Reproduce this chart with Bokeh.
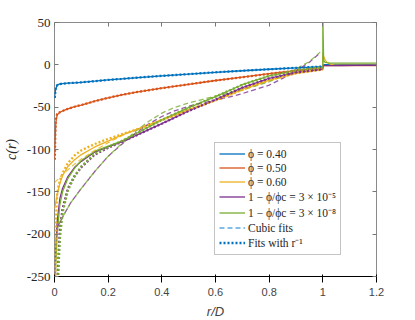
from bokeh.plotting import figure
from bokeh.models import (Legend, LegendItem, LinearAxis, FixedTicker,
                          NumeralTickFormatter, Range1d)
from bokeh.embed import file_html
from bokeh.resources import INLINE

# ---------------- data ----------------
x_ticks = [0, 0.2, 0.4, 0.6, 0.8, 1.0, 1.2]
y_ticks = [-250, -200, -150, -100, -50, 0, 50]

labels = ["ϕ = 0.40", "ϕ = 0.50", "ϕ = 0.60",
          "1 − ϕ/ϕc = 3 × 10⁻⁵", "1 − ϕ/ϕc = 3 × 10⁻⁸"]

# inside the core, r < 1
r_in = [0, 0.002, 0.005, 0.01, 0.02, 0.03, 0.05, 0.075, 0.1, 0.15, 0.2, 0.25,
        0.3, 0.4, 0.5, 0.6, 0.7, 0.8, 0.9, 1.0]
c_040 = [-39, -33, -28, -24, -22.6, -22.2, -21.7, -21.2, -20.7, -19.3, -17.8,
         -16.6, -15.3, -13, -11, -8.8, -7, -5.2, -3.6, -2]
c_050 = [-110, -92, -68, -59, -56, -54.5, -52, -49.5, -47.5, -43, -39, -35.5,
         -32.5, -27.5, -23, -18.5, -14.5, -10.5, -7, -3.5]
c_060 = [-170, -167, -162, -154, -140, -131, -120, -112, -106, -97, -90, -83,
         -77, -65, -53, -42, -29, -18, -10, -5.5]
c_3e5 = [-300, -250, -215, -185, -158, -146, -132, -121, -114, -103, -97, -91,
         -84, -69.5, -54.5, -41, -27, -16, -9, -5]
c_3e8 = [-320, -270, -235, -200, -165, -150, -134, -122, -113, -102, -96, -90,
         -82, -65, -50.5, -37.5, -23.5, -13, -6.5, -3]

# outside the core, r >= 1
r_out = [1.0, 1.003, 1.008, 1.015, 1.025, 1.04, 1.07, 1.12, 1.2]
o_040 = [0.3, 0.3, 0.3, 0.3, 0.3, 0.3, 0.3, 0.3, 0.3]
o_050 = [-0.5, -0.8, -1, -1, -1, -1, -1, -1, -1]
o_060 = [14, 10, 6, 3, 1, 0, -0.5, -0.5, -0.5]
o_3e5 = [-1, -1, -1, -1, -1, -1, -0.8, -0.6, -0.5]
o_3e8 = [58, 5, 3, 2.5, 2, 2, 2, 2, 2]

# fits with r^-1 (dotted)
r_fit = [0.001, 0.003, 0.005, 0.01, 0.015, 0.02, 0.03, 0.05, 0.075, 0.1, 0.15,
         0.2, 0.25, 0.3, 0.4, 0.5, 0.6, 0.7, 0.8, 0.9, 1.0]
f_040 = [-39, -31, -27, -24, -23.2, -22.7, -22.2, -21.7, -21.2, -20.7, -19.3,
         -17.8, -16.6, -15.3, -13, -11, -8.8, -7, -5.2, -3.6, -2]
f_050 = [-112, -80, -64, -58, -56.8, -56, -54.5, -52, -49.5, -47.5, -43, -39,
         -35.5, -32.5, -27.5, -23, -18.5, -14.5, -10.5, -7, -3.5]
f_060 = [-400, -250, -185, -152, -143, -137, -128, -116, -107, -101, -93.5,
         -87.5, -82, -77, -65.5, -53.5, -42, -29.5, -18, -10, -5.5]
f_3e5 = [-900, -500, -380, -270, -225, -195, -170, -146, -131, -121, -106, -98,
         -91, -84, -69.5, -54.5, -41, -27, -16, -9, -5]
f_3e8 = [-900, -520, -400, -290, -240, -205, -175, -148, -132, -120, -105, -97,
         -90, -82, -65, -50.5, -37.5, -23.5, -13, -6.5, -3]

# cubic fits (dashed)
r_cub_060 = [0, 0.03, 0.06, 0.1, 0.15, 0.2, 0.25, 0.3, 0.35, 0.4, 0.45, 0.5,
             0.55, 0.6, 0.65, 0.7, 0.75, 0.8, 0.85, 0.9, 0.95, 0.99]
cub_060 = [-139, -130, -121, -111, -101, -92, -84, -77, -71, -65, -59, -53,
           -47.5, -42, -36, -30, -24.5, -19, -14, -10, -6.5, -4]
r_cub = [0.01, 0.03, 0.06, 0.1, 0.15, 0.2, 0.25, 0.3, 0.35, 0.4, 0.45, 0.5,
         0.55, 0.6, 0.65, 0.7, 0.75, 0.8, 0.85, 0.9, 0.95, 0.99]
cub_3e8 = [-192, -180, -163, -146, -126, -108, -93, -79, -67, -57, -50, -45,
           -41, -37, -33, -29, -25, -20, -13, -5, 4, 15]
cub_3e5 = [-192, -180, -163, -146, -126, -108, -94, -81, -70, -61, -54, -49,
           -45, -42, -38, -34, -29, -24, -16, -7, 3, 14]

colors = ["#0072BD", "#D95319", "#EDB120", "#7E2F8E", "#77AC30"]
cubic_legend_color = "#5AA9E0"
NAN = float("nan")

SERIF = "'Liberation Serif', serif"

# ---------------- figure ----------------
p = figure(frame_width=322, frame_height=254, x_range=Range1d(0, 1.2),
           y_range=Range1d(-250, 50), output_backend="svg",
           toolbar_location=None, min_border_left=45, min_border_right=30,
           min_border_top=22, min_border_bottom=36,
           x_axis_label="r/D", y_axis_label="c(r)")
p.xgrid.visible = False
p.ygrid.visible = False
p.outline_line_color = "#8a8a8a"
p.outline_line_width = 1
p.background_fill_color = "white"
p.border_fill_color = "white"

p.xaxis.ticker = FixedTicker(ticks=x_ticks)
p.yaxis.ticker = FixedTicker(ticks=y_ticks)
p.xaxis.formatter = NumeralTickFormatter(format="0.[0]")
p.yaxis.formatter = NumeralTickFormatter(format="0")

top_axis = LinearAxis(ticker=FixedTicker(ticks=x_ticks),
                      major_label_overrides={t: "" for t in x_ticks})
right_axis = LinearAxis(ticker=FixedTicker(ticks=y_ticks),
                        major_label_overrides={t: "" for t in y_ticks})
p.add_layout(top_axis, "above")
p.add_layout(right_axis, "right")

for ax in (p.xaxis[0], p.yaxis[0], top_axis, right_axis):
    ax.axis_line_color = None
    ax.major_tick_in = 4
    ax.major_tick_out = 0
    ax.minor_tick_line_color = None
    ax.major_tick_line_color = "#777777"
    ax.major_label_text_font = SERIF
    ax.major_label_text_font_size = "13px"
    ax.major_label_text_color = "#262626"
    ax.axis_label_text_font = SERIF
    ax.axis_label_text_font_size = "14px"
    ax.axis_label_text_font_style = "italic"
    ax.axis_label_text_color = "#262626"

for ax in (top_axis, right_axis):
    ax.major_label_standoff = 0

p.xaxis[0].major_label_standoff = 5
p.xaxis[0].axis_label_standoff = 2
p.yaxis[0].major_label_standoff = 4
p.yaxis[0].axis_label_standoff = 5

series = [(c_040, o_040), (c_050, o_050), (c_060, o_060),
          (c_3e5, o_3e5), (c_3e8, o_3e8)]
solid = []
for (ci, co), col in zip(series, colors):
    r = p.line(r_in + r_out, ci + co, line_color=col, line_width=1.3)
    solid.append(r)

# cubic fits
p.line(r_cub_060, cub_060, line_color=colors[2], line_width=1.1,
       line_dash="5 3", line_alpha=0.85)
p.line(r_cub, cub_3e5, line_color=colors[3], line_width=1.3,
       line_dash="5 3", line_alpha=0.8)
p.line(r_cub, cub_3e8, line_color=colors[4], line_width=1.3,
       line_dash="5 3", line_alpha=0.8, line_dash_offset=4)

# fits with r^-1
for fvals, col in zip([f_040, f_050, f_060, f_3e5, f_3e8], colors):
    p.line(r_fit, fvals, line_color=col, line_width=2.3, line_dash="2 2")

# legend-only entries (no visible data)
cub_dummy = p.line([NAN, NAN], [NAN, NAN], line_color=cubic_legend_color,
                   line_width=1.3, line_dash="5 3")
fit_dummy = p.line([NAN, NAN], [NAN, NAN], line_color=colors[0],
                   line_width=2.3, line_dash="2 2")

items = [LegendItem(label=lab, renderers=[r]) for lab, r in zip(labels, solid)]
items.append(LegendItem(label="Cubic fits", renderers=[cub_dummy]))
items.append(LegendItem(label="Fits with r⁻¹", renderers=[fit_dummy]))

legend = Legend(items=items, location=(160, 21), margin=0, padding=4,
                spacing=1, label_height=13, glyph_height=13, glyph_width=26,
                label_standoff=3, label_text_font=SERIF,
                label_text_font_size="11.5px", label_text_color="#262626",
                border_line_color="#8a8a8a", border_line_width=1,
                background_fill_color="white", background_fill_alpha=1)
p.add_layout(legend)

open("out.html", "w").write(file_html(p, INLINE))
